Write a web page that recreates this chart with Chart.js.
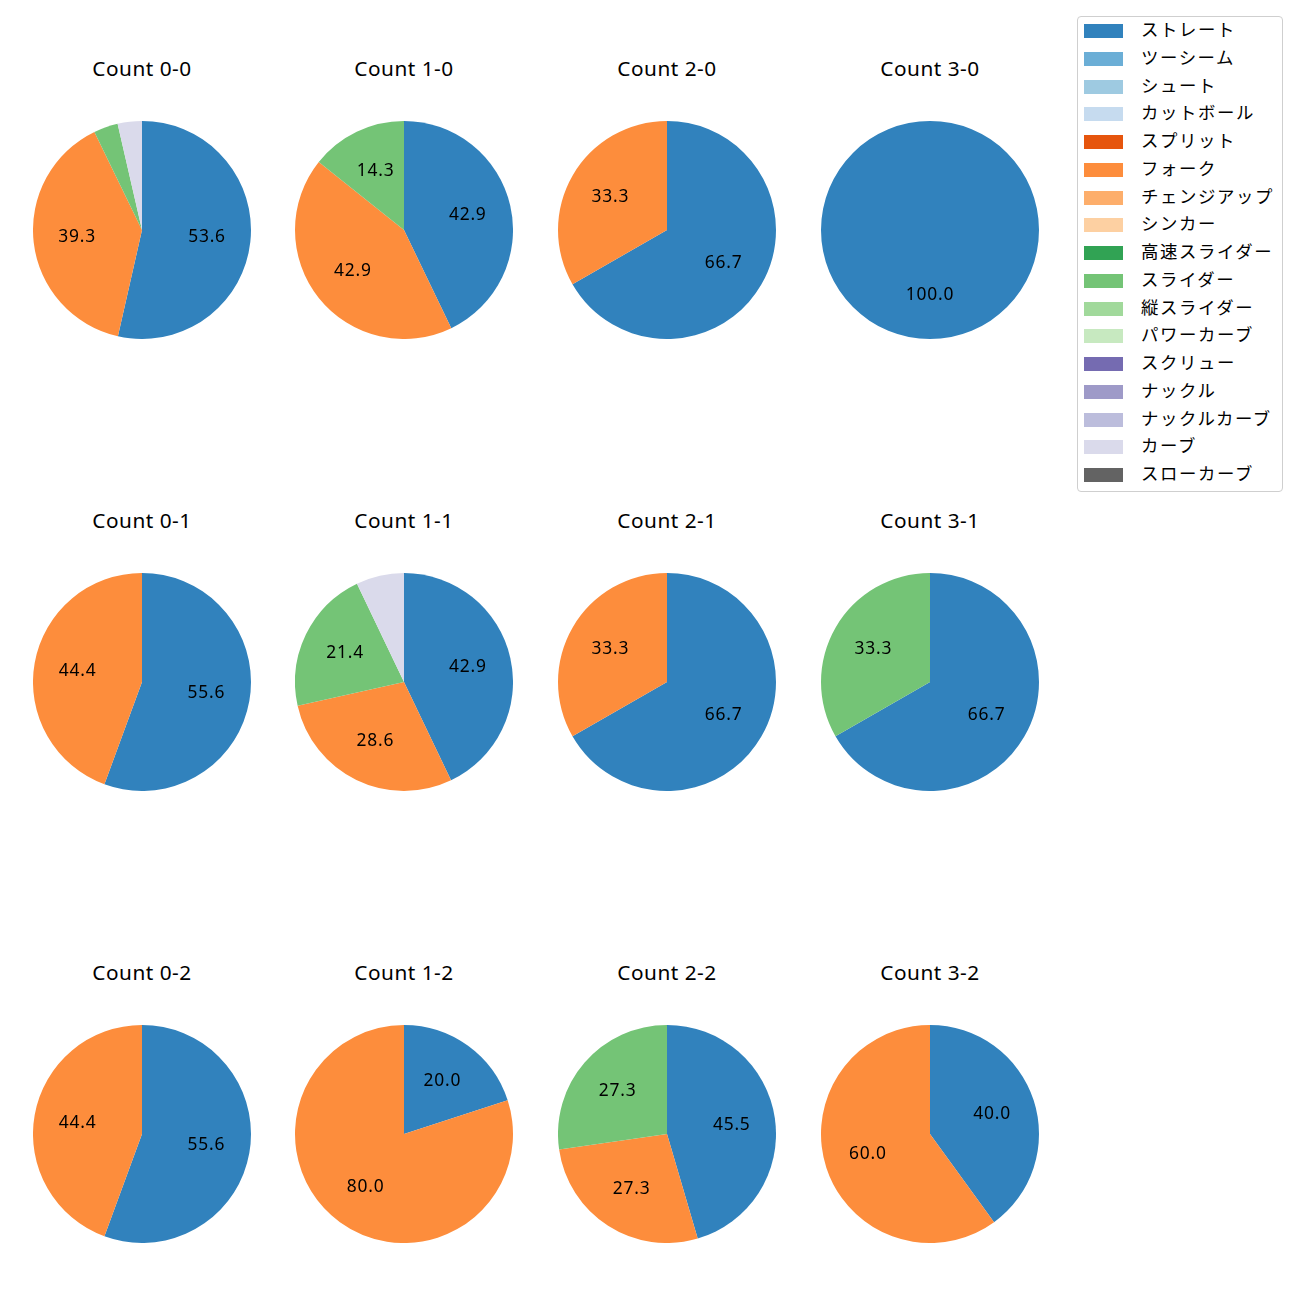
<!DOCTYPE html>
<html>
<head>
<meta charset="utf-8">
<script src="https://cdn.jsdelivr.net/npm/chart.js@4/dist/chart.umd.min.js"></script>
<style>
  html, body { margin: 0; padding: 0; background: #fff; }
  #wrap { position: relative; width: 1300px; height: 1300px; background: #fff; overflow: hidden;
          font-family: "Noto Sans CJK JP", "Noto Sans", sans-serif; color: #000; }
  .title { position: absolute; width: 240px; text-align: center; font-size: 20.8px; line-height: 24px;
           font-family: "Noto Sans", sans-serif; letter-spacing: 0.5px; }
  .pie { position: absolute; }
  #legend { position: absolute; left: 1077px; top: 16px; width: 204px; height: 474px;
            border: 1px solid #cfcfcf; border-radius: 4px; background: #fff; }
  .lrow { position: absolute; left: 0; height: 24px; width: 200px; }
  .sw { position: absolute; left: 6px; top: 5px; width: 39px; height: 14px; }
  .lt { position: absolute; left: 63px; top: -2px; font-size: 17.4px; line-height: 24px; white-space: nowrap; letter-spacing: 1.6px; }
</style>
</head>
<body>
<div id="wrap"><div id="legend"></div></div>
<script>
// ---- data ----
const pitchTypes = ['ストレート','ツーシーム','シュート','カットボール','スプリット','フォーク','チェンジアップ','シンカー','高速スライダー','スライダー','縦スライダー','パワーカーブ','スクリュー','ナックル','ナックルカーブ','カーブ','スローカーブ'];
const pitchColors = ['#3182bd','#6baed6','#9ecae1','#c6dbef','#e6550d','#fd8d3c','#fdae6b','#fdd0a2','#31a354','#74c476','#a1d99b','#c7e9c0','#756bb1','#9e9ac8','#bcbddc','#dadaeb','#636363'];
const countLabels = ['0-0','1-0','2-0','3-0','0-1','1-1','2-1','3-1','0-2','1-2','2-2','3-2'];
// percentage per count (same order as countLabels)
const straightPct = [53.6, 42.9, 66.7, 100.0, 55.6, 42.9, 66.7, 66.7, 55.6, 20.0, 45.5, 40.0];
const forkPct     = [39.3, 42.9, 33.3,   0.0, 44.4, 28.6, 33.3,  0.0, 44.4, 80.0, 27.3, 60.0];
const sliderPct   = [ 3.6, 14.3,  0.0,   0.0,  0.0, 21.4,  0.0, 33.3,  0.0,  0.0, 27.3,  0.0];
const curvePct    = [ 3.6,  0.0,  0.0,   0.0,  0.0,  7.1,  0.0,  0.0,  0.0,  0.0,  0.0,  0.0];
const seriesByPitch = { 'ストレート': straightPct, 'フォーク': forkPct, 'スライダー': sliderPct, 'カーブ': curvePct };

// ---- layout ----
const colX = [142, 404, 667, 930];
const rowY = [230, 682, 1134];
const titleY = [69, 521, 973];
const R = 109;

const wrap = document.getElementById('wrap');

const labelPlugin = {
  id: 'pctLabels',
  afterDatasetsDraw(chart) {
    const ctx = chart.ctx;
    const meta = chart.getDatasetMeta(0);
    const data = chart.data.datasets[0].data;
    ctx.save();
    ctx.font = '17.4px "Noto Sans", sans-serif';
    try { ctx.letterSpacing = '0.8px'; } catch (e) {}
    ctx.fillStyle = '#000';
    ctx.textAlign = 'center';
    ctx.textBaseline = 'middle';
    meta.data.forEach((arc, i) => {
      const v = data[i];
      if (v < 10) return;
      const p = arc.getProps(['x','y','startAngle','endAngle','outerRadius'], true);
      const mid = (p.startAngle + p.endAngle) / 2;
      const rr = p.outerRadius * 0.6;
      ctx.fillText(v.toFixed(1), p.x + Math.cos(mid) * rr, p.y + Math.sin(mid) * rr);
    });
    ctx.restore();
  }
};

countLabels.forEach((cl, k) => {
  const col = k % 4, row = Math.floor(k / 4);
  const t = document.createElement('div');
  t.className = 'title';
  t.textContent = 'Count ' + cl;
  t.style.left = (colX[col] - 120) + 'px';
  t.style.top = (titleY[row] - 13) + 'px';
  wrap.appendChild(t);

  const cv = document.createElement('canvas');
  cv.className = 'pie';
  cv.width = 2 * R; cv.height = 2 * R;
  cv.style.width = 2 * R + 'px'; cv.style.height = 2 * R + 'px';
  cv.style.left = (colX[col] - R) + 'px';
  cv.style.top = (rowY[row] - R) + 'px';
  wrap.appendChild(cv);

  const labels = [], vals = [], cols = [];
  pitchTypes.forEach((p, j) => {
    const s = seriesByPitch[p];
    if (s && s[k] > 0) { labels.push(p); vals.push(s[k]); cols.push(pitchColors[j]); }
  });

  new Chart(cv, {
    type: 'pie',
    data: { labels: labels, datasets: [{ data: vals, backgroundColor: cols, borderWidth: 0 }] },
    options: {
      responsive: false,
      animation: false,
      layout: { padding: 0 },
      plugins: { legend: { display: false }, tooltip: { enabled: false } }
    },
    plugins: [labelPlugin]
  });
});

// ---- legend ----
const legend = document.getElementById('legend');
pitchTypes.forEach((p, i) => {
  const r = document.createElement('div');
  r.className = 'lrow';
  r.style.top = (2 + i * 27.75) + 'px';
  const sw = document.createElement('div');
  sw.className = 'sw';
  sw.style.background = pitchColors[i];
  const tx = document.createElement('div');
  tx.className = 'lt';
  tx.textContent = p;
  r.appendChild(sw); r.appendChild(tx);
  legend.appendChild(r);
});
</script>
</body>
</html>
